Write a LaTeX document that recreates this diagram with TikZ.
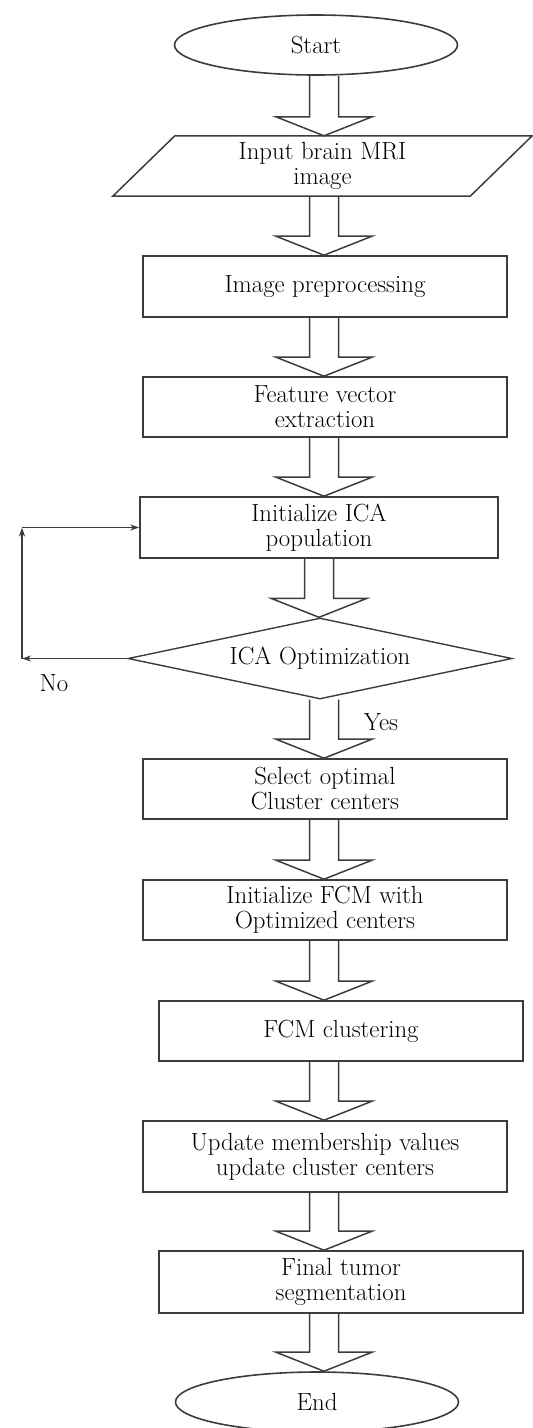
\documentclass[tikz,border=0pt]{standalone}
\usepackage{fontspec}
\usetikzlibrary{shapes.geometric,calc,arrows.meta}
\definecolor{edgegray}{RGB}{60,60,60}
% hollow block arrow from #2 down to #3, on the column through #1
\newcommand{\fatarrow}[3][spine]{%
  \draw[fat] let \p0=(#1), \p1=(#2.south), \p2=(#3.north) in
    (\x0-14.5pt,\y1) -- (\x0-14.5pt,\y2+19pt) -- (\x0-48pt,\y2+19pt) -- (\x0,\y2)
    -- (\x0+48pt,\y2+19pt) -- (\x0+14.5pt,\y2+19pt) -- (\x0+14.5pt,\y1);}
\begin{document}
\begin{tikzpicture}[>={Stealth[length=9pt,width=6pt]},x=1pt,y=-1pt,
    every node/.style={font=\fontsize{24.8}{25}\selectfont},
    box/.style={draw=edgegray,line width=1.6pt,rectangle,minimum width=364,minimum height=60,align=center,inner sep=0pt},
    term/.style={draw=edgegray,line width=1.6pt,ellipse,minimum width=283,minimum height=60,inner sep=0pt},
    decide/.style={draw=edgegray,line width=1.4pt,diamond,aspect=4.7,minimum width=384,minimum height=81,inner sep=0pt},
    fat/.style={draw=edgegray,line width=1.5pt,line join=miter},
    loopline/.style={draw=edgegray,line width=1pt}]
  \useasboundingbox (0,0) rectangle (533,1428);
  \coordinate (spine) at (324,0);
  % nodes
  \node[term] (start) at (316,45) {Start};
  \node[rectangle,minimum width=357,minimum height=60,inner sep=0pt,align=center] (inp) at (322.5,166) {Input brain MRI\\image};
  \draw[fat] ([xshift=-31]inp.south west) -- ([xshift=31]inp.north west) -- ([xshift=31]inp.north east) -- ([xshift=-31]inp.south east) -- cycle;
  \node[box,minimum height=61] (pre) at (325,286.5) {Image preprocessing};
  \node[box] (feat) at (325,407) {Feature vector\\extraction};
  \node[box,minimum width=358,minimum height=61] (ica) at (319,527.5) {Initialize ICA\\population};
  \node[decide] (opt) at (320,658.5) {ICA Optimization};
  \node[box] (sel) at (325,789) {Select optimal\\Cluster centers};
  \node[box] (ifcm) at (325,910) {Initialize FCM with\\Optimized centers};
  \node[box] (fcm) at (341,1031) {FCM clustering};
  \node[box,minimum height=71] (upd) at (325,1156.5) {Update membership values\\update cluster centers};
  \node[box,minimum height=62] (fin) at (341,1282) {Final tumor\\segmentation};
  \node[term] (end) at (317,1402) {End};
  % block arrows
  \fatarrow{start}{inp}
  \fatarrow{inp}{pre}
  \fatarrow{pre}{feat}
  \fatarrow{feat}{ica}
  \fatarrow[ica]{ica}{opt}
  \fatarrow{opt}{sel}
  \fatarrow{sel}{ifcm}
  \fatarrow{ifcm}{fcm}
  \fatarrow{fcm}{upd}
  \fatarrow{upd}{fin}
  \fatarrow{fin}{end}
  % feedback loop
  \coordinate (lb) at (22,658.5);
  \coordinate (lt) at (22,527.5);
  \draw[loopline,->] (opt.west) -- (lb);
  \draw[loopline,line width=2.4pt,->] (lb) -- (lt);
  \draw[loopline,->] (lt) -- (ica.west);
  \node (no) at (54,683) {No};
  \node (yes) at (381,722) {Yes};
\end{tikzpicture}
\end{document}
